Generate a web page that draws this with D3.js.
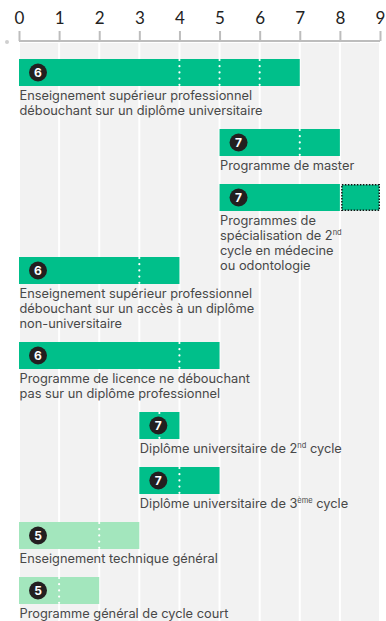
<!DOCTYPE html>
<html>
<head>
<meta charset="utf-8">
<script src="https://cdn.jsdelivr.net/npm/d3@7"></script>
<style>
  html, body { margin: 0; padding: 0; background: #fff; }
  svg { display: block; font-family: Inter, Lato, sans-serif; }
</style>
</head>
<body>
<div id="chart"></div>
<script>
// chart data
const tickValues = [0, 1, 2, 3, 4, 5, 6, 7, 8, 9];
const labels = [
  ["Enseignement supérieur professionnel", "débouchant sur un diplôme universitaire"],
  ["Programme de master"],
  ["Programmes de", "spécialisation de 2^{nd}", "cycle en médecine", "ou odontologie"],
  ["Enseignement supérieur professionnel", "débouchant sur un accès à un diplôme", "non-universitaire"],
  ["Programme de licence ne débouchant", "pas sur un diplôme professionnel"],
  ["Diplôme universitaire de 2^{nd} cycle"],
  ["Diplôme universitaire de 3^{ème} cycle"],
  ["Enseignement technique général"],
  ["Programme général de cycle court"]
];
const levels = [6, 7, 7, 6, 6, 7, 7, 5, 5];
const starts = [0, 5, 5, 0, 0, 3, 3, 0, 0];
const ends = [7, 8, 8, 4, 5, 4, 5, 3, 2];
const extraEnds = [null, null, 9, null, null, null, null, null, null];
const dividers = [[4, 5, 6], [7], [], [3], [4], [3.5], [4], [2], [1]];

const width = 386, height = 621;
const colors = {
  bar: '#00bf8a',
  barLight: '#a3e6bd',
  column: '#f2f2f2',
  axis: '#bdbdbd',
  tickText: '#222',
  label: '#484848',
  badge: '#231f20'
};

const barH = 27, lineH = 15, pad = 13;

const svg = d3.select('#chart').append('svg')
  .attr('width', width).attr('height', height);

const x = d3.scaleLinear().domain([0, 9]).range([19, 380]);

// background columns
svg.append('g').selectAll('rect')
  .data(tickValues.slice(0, -1))
  .join('rect')
  .attr('x', d => x(d) + 1)
  .attr('width', d => x(d + 1) - x(d) - 2)
  .attr('y', 43)
  .attr('height', height - 43)
  .attr('fill', colors.column);

// top axis
const axis = svg.append('g')
  .attr('transform', 'translate(0,41)')
  .call(d3.axisTop(x).tickValues(tickValues).tickSize(10).tickFormat(d3.format('d')));
axis.select('.domain').attr('stroke', colors.axis).attr('stroke-width', 2).attr('d', `M${x(0)},0H${x(9)}`);
axis.selectAll('.tick line').attr('stroke', colors.axis).attr('stroke-width', 2);
axis.selectAll('.tick text').attr('fill', colors.tickText).attr('font-size', '17px')
  .attr('font-family', 'Lato, sans-serif').attr('y', -17).attr('dy', 0);
svg.append('circle').attr('cx', 7).attr('cy', 42).attr('r', 2).attr('fill', '#cfcfcf');

// rows, packed top-down so boxes do not collide
const placed = [];
let prevTop = 59, prevBarBottom = -Infinity;
const rowsG = svg.append('g');

labels.forEach((lines, i) => {
  const x0 = x(starts[i]);
  const x1 = x(extraEnds[i] != null ? extraEnds[i] : ends[i]);
  const g = rowsG.append('g');

  // label first so it can be measured
  const text = g.append('text')
    .attr('fill', colors.label)
    .attr('font-size', '12.8px');
  lines.forEach((line, li) => {
    const parts = line.split(/\^\{|\}/);
    parts.forEach((p, pi) => {
      if (!p) return;
      const sup = pi % 2 === 1;
      const t = text.append('tspan').text(p);
      if (pi === 0) t.attr('x', x0 + 0.5).attr('y', barH + 14 + li * lineH);
      if (sup) t.attr('font-size', '7.5px').attr('dy', -5);
      else if (pi > 0) t.attr('dy', 5);
    });
  });
  const labelW = text.node().getBBox().width;

  const barBox = { x0: x0, x1: x1, h0: 0, h1: barH };
  const labBox = { x0: x0, x1: x0 + labelW, h0: barH, h1: barH + lines.length * lineH };

  let top = i === 0 ? 59 : Math.max(prevTop, prevBarBottom + pad);
  placed.forEach(b => {
    [barBox, labBox].forEach(nb => {
      if (nb.x0 < b.x1 + 2 && nb.x1 + 2 > b.x0) top = Math.max(top, b.y1 + pad - nb.h0);
    });
  });

  g.attr('transform', `translate(0,${top})`);
  placed.push({ x0: barBox.x0, x1: barBox.x1, y1: top + barH });
  placed.push({ x0: labBox.x0, x1: labBox.x1, y1: top + labBox.h1 });
  prevTop = top;
  prevBarBottom = top + barH;

  const fill = levels[i] === 5 ? colors.barLight : colors.bar;
  g.append('rect')
    .attr('x', x0).attr('y', 0)
    .attr('width', x(ends[i]) - x0).attr('height', barH)
    .attr('fill', fill);

  if (extraEnds[i] != null) {
    g.append('rect')
      .attr('x', x(ends[i]) + 2).attr('y', 0.75)
      .attr('width', x(extraEnds[i]) - x(ends[i]) - 2.75).attr('height', barH - 1.5)
      .attr('fill', fill)
      .attr('stroke', '#111').attr('stroke-width', 1.5)
      .attr('stroke-dasharray', '1.5,1.5');
  }

  g.selectAll('line.div')
    .data(dividers[i])
    .join('line')
    .attr('class', 'div')
    .attr('x1', d => x(d)).attr('x2', d => x(d))
    .attr('y1', 1).attr('y2', barH)
    .attr('stroke', '#fff').attr('stroke-width', 2.2)
    .attr('stroke-linecap', 'round')
    .attr('stroke-dasharray', '0,6.2');

  g.append('circle')
    .attr('cx', x0 + 19).attr('cy', barH / 2)
    .attr('r', 9)
    .attr('fill', colors.badge);
  g.append('text')
    .attr('x', x0 + 19).attr('y', barH / 2)
    .attr('dy', '0.36em')
    .attr('text-anchor', 'middle')
    .attr('fill', '#fff')
    .attr('font-size', '12px')
    .attr('font-weight', 'bold')
    .text(levels[i]);
});
</script>
</body>
</html>
